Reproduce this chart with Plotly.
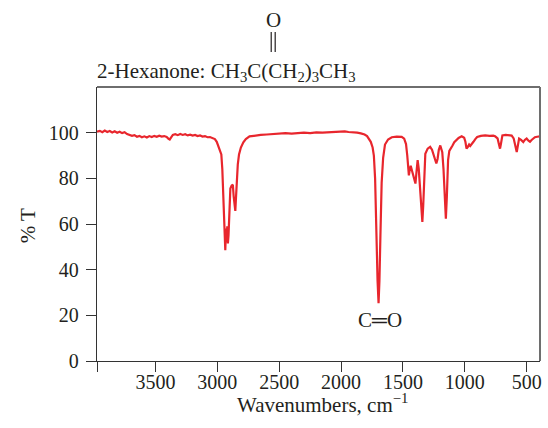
import plotly.graph_objects as go

# IR spectrum of 2-hexanone: wavenumber (cm^-1) and percent transmittance
wavenumber = [
    3973, 3950, 3930, 3910, 3890, 3870, 3850, 3830, 3810, 3790, 3770, 3750,
    3730, 3710, 3690, 3670, 3650, 3630, 3610, 3590, 3570, 3550, 3530, 3510,
    3490, 3470, 3450, 3430, 3410, 3395, 3385, 3375, 3360, 3340, 3320, 3300,
    3280, 3260, 3240, 3220, 3200, 3180, 3160, 3140, 3120, 3100, 3080, 3060,
    3040, 3020, 3005, 2990, 2975, 2968, 2960, 2950, 2942, 2936, 2930, 2925,
    2920, 2915, 2910, 2905, 2900, 2895, 2885, 2875, 2868, 2860, 2855, 2850,
    2842, 2835, 2825, 2810, 2790, 2770, 2740, 2700, 2650, 2600, 2550, 2500,
    2450, 2400, 2350, 2300, 2250, 2200, 2150, 2100, 2050, 2000, 1970, 1940,
    1900, 1870, 1840, 1810, 1790, 1775, 1760, 1745, 1735, 1725, 1715, 1705,
    1697, 1690, 1682, 1672, 1660, 1645, 1620, 1590, 1550, 1510, 1490, 1475,
    1465, 1458, 1452, 1444, 1437, 1425, 1410, 1399, 1390, 1381, 1372, 1362,
    1350, 1343, 1336, 1327, 1319, 1300, 1280, 1265, 1250, 1240, 1230, 1220,
    1210, 1198, 1190, 1182, 1172, 1162, 1153, 1145, 1135, 1125, 1110, 1099,
    1085, 1070, 1050, 1025, 1005, 995, 986, 975, 965, 956, 945, 930,
    915, 900, 870, 835, 800, 770, 755, 735, 722, 715, 708, 696,
    670, 640, 621, 605, 594, 586, 580, 572, 561, 545, 527, 515,
    500, 485, 473, 460, 445, 433, 415, 393,
]
transmittance = [
    100.4, 100.8, 100.2, 100.9, 100.3, 100.7, 100.1, 100.6, 100.0, 100.4, 99.8, 100.2,
    99.4, 99.0, 98.6, 98.9, 98.2, 98.6, 98.0, 98.4, 97.9, 98.5, 98.1, 98.6,
    98.2, 98.7, 98.3, 98.5, 98.1, 97.3, 97.0, 97.8, 99.0, 99.3, 98.9, 99.4,
    99.0, 99.3, 98.8, 99.1, 98.7, 99.0, 98.5, 98.8, 98.3, 98.5, 98.0, 98.1,
    97.6, 97.2, 96.0, 94.0, 91.5, 90.5, 84.0, 68.0, 55.0, 48.5, 58.0, 53.0,
    59.0, 51.5, 55.0, 64.0, 71.0, 75.5, 76.8, 77.2, 72.0, 67.0, 65.7, 71.0,
    80.0, 86.0, 90.5, 93.5, 95.8, 97.2, 98.4, 98.8, 99.0, 99.2, 99.5, 99.7,
    99.8, 99.6, 99.9, 100.0, 99.8, 100.1, 100.0, 100.2, 100.1, 100.4, 100.6, 100.3,
    100.2, 100.0, 99.7, 99.2, 98.5, 97.5, 96.0, 93.5, 90.0, 80.0, 55.0, 35.0,
    25.3, 35.0, 55.0, 78.0, 89.0, 94.8, 97.0, 98.0, 98.3, 98.2, 97.4, 95.0,
    90.0, 84.0, 81.3, 84.0, 85.5, 83.0, 79.5, 77.7, 83.0, 88.0, 84.0, 74.0,
    64.0, 60.9, 68.0, 83.0, 90.8, 93.0, 93.8, 92.5, 90.0, 88.0, 86.5, 88.5,
    92.5, 94.4, 93.2, 91.5, 84.0, 70.0, 62.3, 72.0, 88.0, 92.0, 93.8, 94.4,
    95.8, 96.8, 97.7, 98.4, 97.8, 96.0, 93.0, 93.8, 94.8, 94.2, 95.2, 96.0,
    97.2, 98.1, 98.6, 98.8, 98.6, 98.7, 98.4, 97.5, 94.5, 93.0, 95.0, 98.8,
    99.0, 98.9, 98.7, 97.5, 95.2, 92.5, 91.5, 94.0, 97.4, 96.8, 95.9, 96.8,
    97.4, 96.5, 96.0, 96.8, 97.6, 98.0, 98.2, 98.4,
]

x_tick_vals = [3973, 3500, 3000, 2500, 2000, 1500, 1000, 500]
x_tick_text = ["", "3500", "3000", "2500", "2000", "1500", "1000", "500"]
y_tick_vals = [0, 20, 40, 60, 80, 100]

W, H = 548, 428
ML, MR, MT, MB = 97, 6, 87, 67
FONT = "Liberation Serif, Times New Roman, serif"
INK = "#231f20"
RED = "#e8262d"
TICK_SIZE = 20
TEXT_SIZE = 21


def px_x(p):
    return (p - ML) / (W - ML - MR)


def px_y(p):
    return 1 - (p - MT) / (H - MT - MB)


fig = go.Figure()
fig.add_trace(go.Scatter(
    x=wavenumber, y=transmittance, mode="lines",
    line=dict(color=RED, width=2.2), hoverinfo="skip",
))

fig.update_layout(
    width=W, height=H,
    margin=dict(l=ML, r=MR, t=MT, b=MB, pad=0),
    paper_bgcolor="white", plot_bgcolor="white",
    showlegend=False,
    font=dict(family=FONT, size=TICK_SIZE, color=INK),
    xaxis=dict(
        range=[3973, 392], showgrid=False, zeroline=False,
        showline=True, linecolor="#333333", linewidth=1.3,
        ticks="outside", ticklen=10, tickwidth=1.2, tickcolor="#333333",
        tickvals=x_tick_vals, ticktext=x_tick_text, ticklabelstandoff=-7,
        tickfont=dict(family=FONT, size=TICK_SIZE, color=INK),
    ),
    yaxis=dict(
        range=[0, 120], showgrid=False, zeroline=False,
        showline=True, linecolor="#333333", linewidth=1.3,
        ticks="outside", ticklen=10, tickwidth=1.2, tickcolor="#333333",
        tickvals=y_tick_vals, ticklabelstandoff=3,
        tickfont=dict(family=FONT, size=TICK_SIZE, color=INK),
    ),
)

# grey frame on the top and right sides
fig.add_shape(type="line", xref="paper", yref="paper", x0=0, x1=1, y0=1, y1=1,
              line=dict(color="#6e6e6e", width=2))
fig.add_shape(type="line", xref="paper", yref="paper", x0=1, x1=1, y0=0, y1=1,
              line=dict(color="#6e6e6e", width=2))

# compound name with condensed formula
fig.add_annotation(
    xref="paper", yref="paper", x=px_x(95), y=px_y(72),
    xanchor="left", yanchor="middle", showarrow=False,
    text="2-Hexanone: CH<sub>3</sub>C(CH<sub>2</sub>)<sub>3</sub>CH<sub>3</sub>",
    font=dict(family=FONT, size=TEXT_SIZE, color=INK),
)
# carbonyl oxygen drawn above the ketone carbon
fig.add_annotation(
    xref="paper", yref="paper", x=px_x(274), y=px_y(20),
    xanchor="center", yanchor="middle", showarrow=False,
    text="O", font=dict(family=FONT, size=TEXT_SIZE, color=INK),
)
for bx in (272, 276):
    fig.add_shape(type="line", xref="paper", yref="paper",
                  x0=px_x(bx), x1=px_x(bx), y0=px_y(32), y1=px_y(52),
                  line=dict(color=INK, width=1.2))

# peak label for the carbonyl stretch
fig.add_annotation(
    xref="paper", yref="paper", x=px_x(381), y=px_y(320),
    xanchor="center", yanchor="middle", showarrow=False,
    text="C═O", font=dict(family=FONT, size=TEXT_SIZE, color=INK),
)

# axis titles
fig.add_annotation(
    xref="paper", yref="paper", x=px_x(28), y=px_y(226),
    xanchor="center", yanchor="middle", showarrow=False, textangle=-90,
    text="% T", font=dict(family=FONT, size=TEXT_SIZE, color=INK),
)
fig.add_annotation(
    xref="paper", yref="paper", x=px_x(324), y=px_y(403),
    xanchor="center", yanchor="middle", showarrow=False,
    text="Wavenumbers, cm<sup>−1</sup>", font=dict(family=FONT, size=TEXT_SIZE, color=INK),
)

fig.write_html("out.html")
